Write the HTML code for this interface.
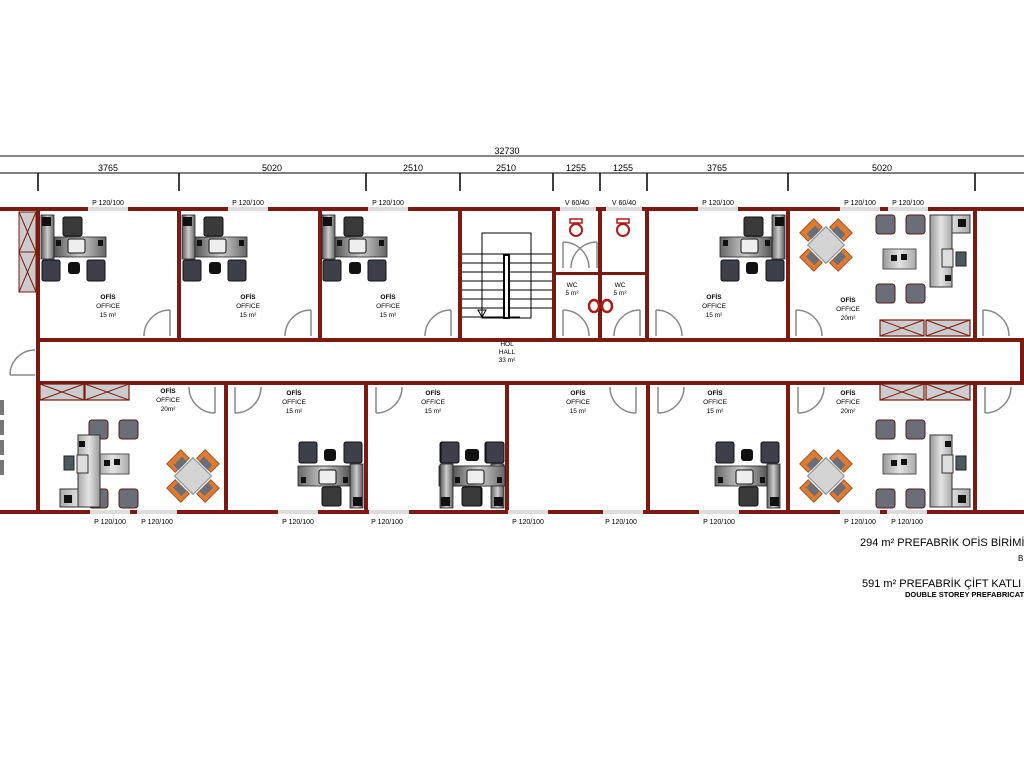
<!DOCTYPE html>
<html><head><meta charset="utf-8"><style>
html,body{margin:0;padding:0;background:#fff;}
svg{display:block;font-family:"Liberation Sans",sans-serif;}
</style></head><body>
<svg width="1024" height="768" viewBox="0 0 1024 768" xmlns="http://www.w3.org/2000/svg">
<defs>
<linearGradient id="gd" x1="0" x2="1"><stop offset="0" stop-color="#555"/><stop offset=".5" stop-color="#ccc"/><stop offset="1" stop-color="#666"/></linearGradient>
<linearGradient id="gl" x1="0" x2="1"><stop offset="0" stop-color="#999"/><stop offset=".5" stop-color="#e4e4e4"/><stop offset="1" stop-color="#aaa"/></linearGradient>
<g id="desk">
 <rect x="0" y="0" width="13" height="44" fill="url(#gd)" stroke="#222" stroke-width=".8"/>
 <rect x="1" y="2" width="9" height="9" fill="#111"/>
 <rect x="22" y="2" width="19" height="19" rx="2" fill="#3a3a3a" stroke="#111"/>
 <rect x="13" y="22" width="52" height="20" fill="url(#gd)" stroke="#222" stroke-width=".8"/>
 <rect x="27" y="24" width="17" height="14" rx="2" fill="#eee" stroke="#111"/>
 <rect x="15" y="25" width="5" height="6" fill="#111"/><rect x="57" y="25" width="5" height="6" fill="#111"/>
 <rect x="1" y="45" width="18" height="21" rx="2" fill="#3d4048" stroke="#111"/>
 <rect x="46" y="45" width="18" height="21" rx="2" fill="#3d4048" stroke="#111"/>
 <rect x="27" y="47" width="12" height="12" rx="3" fill="#111"/>
</g>
<g id="meet">
 <rect x="-13" y="-13" width="26" height="26" fill="#d4d4d4" stroke="#888" transform="rotate(45)"/>
 <g fill="#e07a30" stroke="#8a4a20" stroke-width=".8">
  <rect x="-10" y="-6" width="20" height="12" transform="translate(-15 -15) rotate(-45)"/>
  <rect x="-10" y="-6" width="20" height="12" transform="translate(15 -15) rotate(45)"/>
  <rect x="-10" y="-6" width="20" height="12" transform="translate(-15 15) rotate(45)"/>
  <rect x="-10" y="-6" width="20" height="12" transform="translate(15 15) rotate(-45)"/>
 </g>
 <g fill="#6a6e78">
  <rect x="-6" y="-3" width="12" height="7" transform="translate(-13 -13) rotate(-45)"/>
  <rect x="-6" y="-3" width="12" height="7" transform="translate(13 -13) rotate(45)"/>
  <rect x="-6" y="-3" width="12" height="7" transform="translate(-13 13) rotate(45)"/>
  <rect x="-6" y="-3" width="12" height="7" transform="translate(13 13) rotate(-45)"/>
 </g>
</g>
<g id="boss">
 <rect x="0" y="0" width="19" height="19" rx="3" fill="#6a6e78" stroke="#5a1a10"/>
 <rect x="30" y="0" width="19" height="19" rx="3" fill="#6a6e78" stroke="#5a1a10"/>
 <rect x="7" y="34" width="33" height="20" fill="url(#gl)" stroke="#555"/>
 <rect x="15" y="40" width="6" height="6" fill="#111"/><rect x="25" y="39" width="6" height="6" fill="#111"/>
 <rect x="0" y="69" width="19" height="19" rx="3" fill="#6a6e78" stroke="#5a1a10"/>
 <rect x="30" y="69" width="19" height="19" rx="3" fill="#6a6e78" stroke="#5a1a10"/>
</g>
<g id="ldesk">
 <rect x="0" y="0" width="40" height="18" fill="url(#gl)" stroke="#333"/>
 <rect x="0" y="0" width="22" height="72" fill="url(#gl)" stroke="#333"/>
 <rect x="28" y="4" width="8" height="8" fill="#111"/>
 <rect x="12" y="34" width="11" height="18" fill="#ddd" stroke="#333"/>
 <rect x="26" y="37" width="10" height="14" fill="#4a5a60" stroke="#222"/>
 <rect x="15" y="60" width="6" height="6" fill="#111"/>
</g>
<g id="door" fill="none" stroke="#888" stroke-width="1.5">
 <line x1="0" y1="0" x2="0" y2="-26"/><path d="M0,-26 A26,26 0 0 0 -26,0"/>
</g>
<g id="xcab">
 <rect x="0" y="0" width="44" height="16" fill="#ccc" stroke="#7a1a10" stroke-width="1.2"/>
 <path d="M0,0 L44,16 M0,16 L44,0" stroke="#7a1a10" stroke-width="1"/>
</g>
<g id="wc">
 <rect x="-6" y="0" width="12" height="4" fill="#fff" stroke="#b01818" stroke-width="1.5"/>
 <ellipse cx="0" cy="11" rx="6" ry="6" fill="#fff" stroke="#b01818" stroke-width="2"/>
</g>
</defs>

<line x1="0" y1="156" x2="1024" y2="156" stroke="#888" stroke-width="2"/>
<text x="507" y="154" font-size="9" text-anchor="middle">32730</text>
<line x1="0" y1="173" x2="1024" y2="173" stroke="#000" stroke-width="1"/>
<g stroke="#000" stroke-width="1.5">
<line x1="38" y1="173" x2="38" y2="191"/><line x1="179" y1="173" x2="179" y2="191"/><line x1="366" y1="173" x2="366" y2="191"/><line x1="460" y1="173" x2="460" y2="191"/><line x1="553" y1="173" x2="553" y2="191"/><line x1="600" y1="173" x2="600" y2="191"/><line x1="647" y1="173" x2="647" y2="191"/><line x1="788" y1="173" x2="788" y2="191"/><line x1="975" y1="173" x2="975" y2="191"/>
</g>
<g font-size="9" text-anchor="middle">
<text x="108" y="171">3765</text><text x="272" y="171">5020</text><text x="413" y="171">2510</text><text x="506" y="171">2510</text><text x="576" y="171">1255</text><text x="623" y="171">1255</text><text x="717" y="171">3765</text><text x="882" y="171">5020</text>
</g>

<g fill="#7a1a10">
<rect x="0" y="207" width="1024" height="4"/>
<rect x="36" y="338" width="988" height="4"/>
<rect x="36" y="381" width="988" height="4"/>
<rect x="1020" y="338" width="4" height="47"/>
<rect x="0" y="510" width="1024" height="4"/>
<rect x="36" y="207" width="4" height="307"/>
<rect x="177" y="207" width="4" height="133"/><rect x="318" y="207" width="4" height="133"/><rect x="458" y="207" width="4" height="133"/>
<rect x="552" y="207" width="4" height="133"/><rect x="598" y="207" width="4" height="133"/><rect x="645" y="207" width="4" height="133"/>
<rect x="786" y="207" width="4" height="133"/><rect x="973" y="207" width="4" height="133"/>
<rect x="552" y="272" width="97" height="3"/>
<rect x="224" y="383" width="4" height="130"/><rect x="364" y="383" width="4" height="130"/><rect x="505" y="383" width="4" height="130"/>
<rect x="646" y="383" width="4" height="130"/><rect x="786" y="383" width="4" height="130"/><rect x="973" y="383" width="4" height="130"/>
</g>
<g fill="#ddd">
<rect x="88" y="207" width="40" height="4"/><rect x="228" y="207" width="40" height="4"/><rect x="368" y="207" width="40" height="4"/>
<rect x="560" y="207" width="36" height="4"/><rect x="606" y="207" width="36" height="4"/>
<rect x="698" y="207" width="40" height="4"/><rect x="840" y="207" width="40" height="4"/><rect x="888" y="207" width="40" height="4"/>
<rect x="90" y="510" width="40" height="4"/><rect x="137" y="510" width="40" height="4"/><rect x="278" y="510" width="40" height="4"/><rect x="369" y="510" width="40" height="4"/>
<rect x="508" y="510" width="40" height="4"/><rect x="603" y="510" width="40" height="4"/><rect x="699" y="510" width="40" height="4"/><rect x="840" y="510" width="40" height="4"/><rect x="887" y="510" width="40" height="4"/>
</g>
<g font-size="7" text-anchor="middle" fill="#000">
<text x="108" y="205">P 120/100</text><text x="248" y="205">P 120/100</text><text x="388" y="205">P 120/100</text>
<text x="577" y="205">V 60/40</text><text x="624" y="205">V 60/40</text>
<text x="718" y="205">P 120/100</text><text x="860" y="205">P 120/100</text><text x="908" y="205">P 120/100</text>
<text x="110" y="524">P 120/100</text><text x="157" y="524">P 120/100</text><text x="298" y="524">P 120/100</text><text x="387" y="524">P 120/100</text>
<text x="528" y="524">P 120/100</text><text x="621" y="524">P 120/100</text><text x="719" y="524">P 120/100</text><text x="860" y="524">P 120/100</text><text x="907" y="524">P 120/100</text>
</g>

<rect x="19" y="212" width="17" height="80" fill="#ccc" stroke="#7a1a10"/>
<path d="M19,212 L36,252 M36,212 L19,252 M19,252 L36,292 M36,252 L19,292" stroke="#7a1a10"/>
<line x1="19" y1="252" x2="36" y2="252" stroke="#7a1a10"/>
<g fill="none" stroke="#888" stroke-width="1.5"><line x1="10" y1="375" x2="35" y2="375"/><path d="M35,350 A25,25 0 0 0 10,375"/></g>
<g fill="#777"><rect x="0" y="400" width="4" height="15"/><rect x="0" y="420" width="4" height="15"/><rect x="0" y="440" width="4" height="15"/><rect x="0" y="460" width="4" height="15"/></g>

<use href="#desk" x="41" y="215"/><use href="#desk" x="182" y="215"/><use href="#desk" x="322" y="215"/>
<use href="#desk" transform="translate(785 215) scale(-1 1)"/>
<use href="#desk" transform="translate(363 508) scale(-1 -1)"/>
<use href="#desk" transform="translate(504 508) scale(-1 -1)"/>
<use href="#desk" transform="translate(440 508) scale(1 -1)" />
<use href="#desk" transform="translate(780 508) scale(-1 -1)"/>

<use href="#meet" x="826" y="245"/>
<use href="#boss" x="876" y="215"/>
<use href="#ldesk" x="930" y="215"/>
<use href="#xcab" x="880" y="320"/><use href="#xcab" x="926" y="320"/>

<use href="#xcab" x="40" y="384"/><use href="#xcab" x="85" y="384"/>
<use href="#boss" x="89" y="420"/>
<use href="#meet" x="193" y="476"/>
<use href="#ldesk" transform="translate(100 507) scale(-1 -1)"/>

<use href="#xcab" x="880" y="384"/><use href="#xcab" x="926" y="384"/>
<use href="#boss" x="876" y="420"/>
<use href="#meet" x="826" y="476"/>
<use href="#ldesk" transform="translate(930 507) scale(1 -1)"/>

<g stroke="#000" stroke-width="1" fill="none">
<rect x="482" y="233" width="49" height="85"/>
<line x1="462" y1="254" x2="552" y2="254"/><line x1="462" y1="263" x2="552" y2="263"/><line x1="462" y1="272" x2="552" y2="272"/>
<line x1="462" y1="281" x2="552" y2="281"/><line x1="462" y1="290" x2="552" y2="290"/><line x1="462" y1="299" x2="552" y2="299"/><line x1="462" y1="308" x2="552" y2="308"/><line x1="462" y1="317" x2="520" y2="317"/>
<rect x="504" y="255" width="5" height="63" fill="#fff" stroke-width="2"/>
</g>
<path d="M478,310 L486,310 L482,317 Z" fill="none" stroke="#000"/>

<use href="#wc" x="576" y="219"/><use href="#wc" x="623" y="219"/>
<g fill="none" stroke="#b01818" stroke-width="2.5"><ellipse cx="594" cy="306" rx="5" ry="6"/><ellipse cx="607" cy="306" rx="5" ry="6"/></g>

<use href="#door" x="170" y="336"/><use href="#door" x="311" y="336"/><use href="#door" x="451" y="336"/>
<use href="#door" transform="translate(563 268) scale(-1 1)"/><use href="#door" x="597" y="268"/>
<use href="#door" transform="translate(563 336) scale(-1 1)"/><use href="#door" x="640" y="336"/>
<use href="#door" transform="translate(656 336) scale(-1 1)"/>
<use href="#door" transform="translate(796 336) scale(-1 1)"/>
<use href="#door" transform="translate(983 336) scale(-1 1)"/>
<use href="#door" transform="translate(215 387) scale(1 -1)"/>
<use href="#door" transform="translate(235 387) scale(-1 -1)"/>
<use href="#door" transform="translate(376 387) scale(-1 -1)"/>
<use href="#door" transform="translate(636 387) scale(1 -1)"/>
<use href="#door" transform="translate(658 387) scale(-1 -1)"/>
<use href="#door" transform="translate(798 387) scale(-1 -1)"/>
<use href="#door" transform="translate(985 387) scale(-1 -1)"/>

<g font-size="6.5" text-anchor="middle" fill="#000">
<text x="108" y="299" font-weight="bold">OFİS</text><text x="108" y="308">OFFICE</text><text x="108" y="317">15 m²</text>
<text x="248" y="299" font-weight="bold">OFİS</text><text x="248" y="308">OFFICE</text><text x="248" y="317">15 m²</text>
<text x="388" y="299" font-weight="bold">OFİS</text><text x="388" y="308">OFFICE</text><text x="388" y="317">15 m²</text>
<text x="714" y="299" font-weight="bold">OFİS</text><text x="714" y="308">OFFICE</text><text x="714" y="317">15 m²</text>
<text x="848" y="302" font-weight="bold">OFİS</text><text x="848" y="311">OFFICE</text><text x="848" y="320">20m²</text>
<text x="507" y="346">HOL</text><text x="507" y="354">HALL</text><text x="507" y="362">33 m²</text>
<text x="572" y="287">WC</text><text x="572" y="295">5 m²</text><text x="620" y="287">WC</text><text x="620" y="295">5 m²</text>
<text x="168" y="393" font-weight="bold">OFİS</text><text x="168" y="402">OFFICE</text><text x="168" y="411">20m²</text>
<text x="294" y="395" font-weight="bold">OFİS</text><text x="294" y="404">OFFICE</text><text x="294" y="413">15 m²</text>
<text x="433" y="395" font-weight="bold">OFİS</text><text x="433" y="404">OFFICE</text><text x="433" y="413">15 m²</text>
<text x="578" y="395" font-weight="bold">OFİS</text><text x="578" y="404">OFFICE</text><text x="578" y="413">15 m²</text>
<text x="715" y="395" font-weight="bold">OFİS</text><text x="715" y="404">OFFICE</text><text x="715" y="413">15 m²</text>
<text x="848" y="395" font-weight="bold">OFİS</text><text x="848" y="404">OFFICE</text><text x="848" y="413">20m²</text>
</g>

<text x="860" y="546" font-size="11" fill="#000">294 m² PREFABRİK OFİS BİRİMİ</text>
<text x="1018" y="561" font-size="8" fill="#000">B</text>
<text x="862" y="587" font-size="11" fill="#000">591 m² PREFABRİK ÇİFT KATLI</text>
<text x="905" y="597" font-size="7.5" font-weight="bold" fill="#000">DOUBLE STOREY PREFABRICATED</text>
</svg>
</body></html>
